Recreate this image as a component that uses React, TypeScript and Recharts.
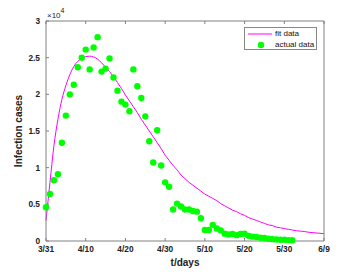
import React from 'react';
import { ComposedChart, Line, XAxis, YAxis } from 'recharts';

const xTicks = [0, 10, 20, 30, 40, 50, 60, 70];
const xTickLabels = ['3/31', '4/10', '4/20', '4/30', '5/10', '5/20', '5/30', '6/9'];
const yTicks = [0, 5000, 10000, 15000, 20000, 25000, 30000];

// actual data, one value per day starting 3/31
const actualCases = [
  4600, 6400, 8300, 9100, 13400, 17100, 20000, 21300, 23700, 25000,
  26100, 23400, 26400, 27800, 23100, 23500, 24900, 22300, 20500, 19000,
  18600, 17700, 23400, 21100, 19500, 17000, 13600, 10700, 15100, 10300,
  8000, 7400, 4300, 5100, 4700, 4300, 4300, 4100, 4000, 3100,
  1500, 1500, 2200, 1700, 1450, 1000, 900, 950, 800, 950,
  1000, 700, 600, 550, 450, 400, 300, 250, 200, 180,
  170, 120, 100,
];

// fit curve, one value per day starting 3/31
const fitCases = [
  2800, 8000, 13000, 16600, 19300, 21200, 22700, 23800, 24500, 24900,
  25150, 25200, 25100, 24800, 24300, 23700, 23100, 22400, 21600, 20800,
  19900, 19100, 18300, 17500, 16600, 15800, 15000, 14200, 13400, 12600,
  11700, 11000, 10300, 9700, 9000, 8500, 8000, 7600, 7200, 6800,
  6400, 6100, 5800, 5500, 5100, 4800, 4500, 4200, 4000, 3700,
  3500, 3200, 3000, 2800, 2600, 2400, 2200, 2100, 1900, 1800,
  1700, 1600, 1500, 1400, 1350, 1300, 1200, 1150, 1100, 1050,
  1000,
];

const data = fitCases.map((f, i) => ({ day: i, fit: f, actual: actualCases[i] }));

const FONT = '"Liberation Sans", Arial, sans-serif';
const AXIS = '#808080';
const tickStyle = { fontSize: 8.3, fontFamily: FONT, fill: '#222', fontWeight: 'bold' as const };

export default function App() {
  return (
    <div style={{ position: 'absolute', left: 0, top: 0, width: 353, height: 272, background: '#fff' }}>
      <ComposedChart width={353} height={272} data={data} margin={{ top: 20, right: 28, bottom: 1, left: 0 }}>
        <XAxis
          dataKey="day"
          type="number"
          domain={[0, 70]}
          ticks={xTicks}
          tickFormatter={(v: number) => xTickLabels[xTicks.indexOf(v)] ?? ''}
          height={30}
          tickSize={-3}
          tickMargin={8.5}
          stroke={AXIS}
          tick={tickStyle}
          interval={0}
          label={{ value: 't/days', position: 'insideBottom', offset: 5, style: { fontSize: 10, fontFamily: FONT, fontWeight: 'bold', fill: '#222' } }}
        />
        <XAxis
          xAxisId="top"
          dataKey="day"
          type="number"
          orientation="top"
          domain={[0, 70]}
          ticks={xTicks}
          tickFormatter={() => ''}
          height={1}
          tickSize={-3}
          stroke={AXIS}
          interval={0}
        />
        <YAxis
          type="number"
          domain={[0, 30000]}
          ticks={yTicks}
          tickFormatter={(v: number) => String(v / 10000)}
          width={46}
          tickSize={-3}
          tickMargin={9}
          stroke={AXIS}
          tick={tickStyle}
          interval={0}
          label={{ value: 'Infection cases', angle: -90, position: 'insideLeft', offset: 18, style: { textAnchor: 'middle', fontSize: 10, fontFamily: FONT, fontWeight: 'bold', fill: '#222' } }}
        />
        <YAxis
          yAxisId="right"
          orientation="right"
          type="number"
          domain={[0, 30000]}
          ticks={yTicks}
          tickFormatter={() => ''}
          width={1}
          tickSize={-3}
          stroke={AXIS}
          interval={0}
        />
        <Line
          dataKey="fit"
          type="monotone"
          stroke="#ff00ff"
          strokeWidth={1}
          dot={false}
          isAnimationActive={false}
        />
        <Line
          dataKey="actual"
          stroke="none"
          dot={{ r: 3.2, fill: '#00ff00', stroke: 'none' }}
          activeDot={false}
          isAnimationActive={false}
        />
      </ComposedChart>
      <div style={{ position: 'absolute', left: 47, top: 8, fontFamily: FONT, fontSize: 8, color: '#222', whiteSpace: 'nowrap' }}>
        ×10<sup style={{ fontSize: 7, position: 'relative', top: -1 }}>4</sup>
      </div>
      <div style={{ position: 'absolute', left: 244, top: 27, width: 73, height: 23, border: '1px solid #888', background: '#fff', boxSizing: 'border-box' }}>
        <svg width={30} height={22} style={{ position: 'absolute', left: 0, top: 0 }}>
          <line x1={3} x2={27} y1={6} y2={6} stroke="#ff00ff" strokeWidth={1} />
          <circle cx={16} cy={17} r={3.2} fill="#00ff00" />
        </svg>
        <div style={{ position: 'absolute', left: 30, top: 1, fontFamily: FONT, fontSize: 8, color: '#111', lineHeight: '10px', whiteSpace: 'nowrap' }}>fit data</div>
        <div style={{ position: 'absolute', left: 30, top: 12, fontFamily: FONT, fontSize: 8, color: '#111', lineHeight: '10px', whiteSpace: 'nowrap' }}>actual data</div>
      </div>
    </div>
  );
}
